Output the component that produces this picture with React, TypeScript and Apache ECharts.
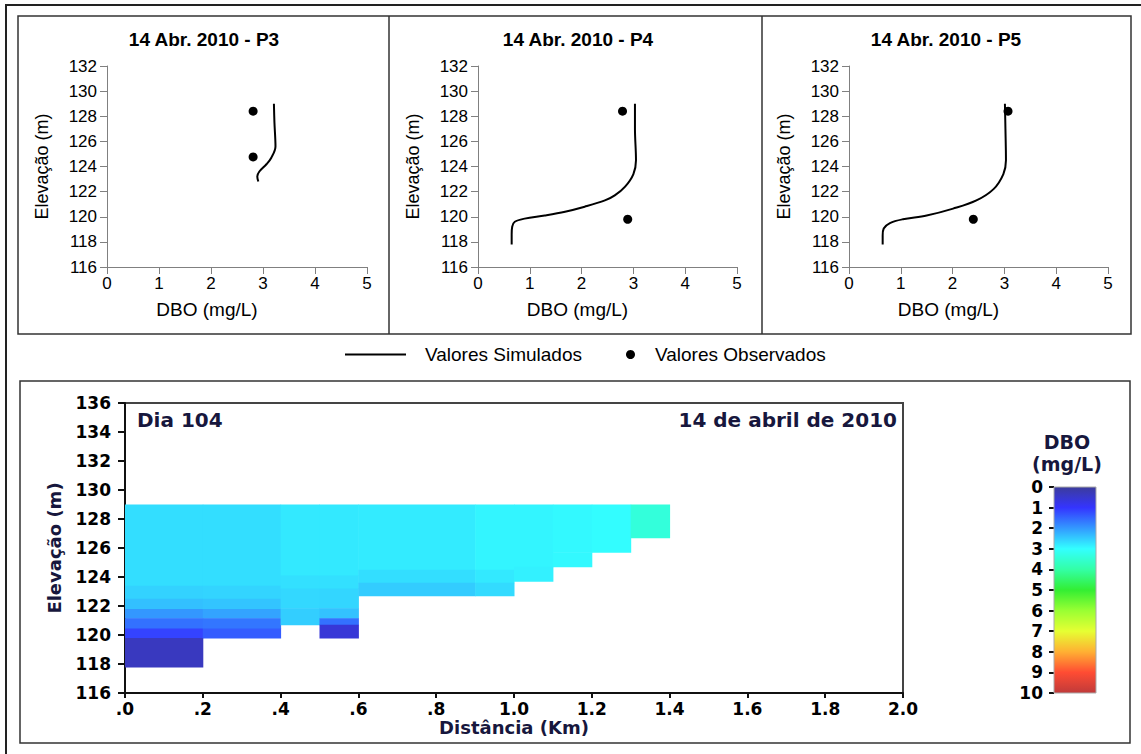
import React, { useEffect, useRef } from 'react';
import * as echarts from 'echarts';

// ---------- data ----------
const panelTitles = ['14 Abr. 2010 - P3', '14 Abr. 2010 - P4', '14 Abr. 2010 - P5'];

// simulated profiles [DBO mg/L, elevation m]
const p3Simulated = [[3.21, 129], [3.22, 127.5], [3.24, 125.6], [3.16, 124.7], [3.07, 124.2], [2.93, 123.6], [2.89, 123.2], [2.91, 122.8]];
const p4Simulated = [[3.03, 129], [3.03, 127], [3.05, 124.5], [3.0, 123.4], [2.84, 122.4], [2.64, 121.7], [2.45, 121.3], [2.06, 120.8], [1.68, 120.4], [1.29, 120.1], [0.9, 119.85], [0.71, 119.6], [0.66, 119.2], [0.65, 118.6], [0.65, 117.8]];
const p5Simulated = [[3.01, 129], [3.02, 127], [3.03, 124.5], [2.98, 123.4], [2.79, 122.2], [2.46, 121.3], [2.01, 120.65], [1.5, 120.1], [1.04, 119.8], [0.79, 119.5], [0.67, 119.06], [0.65, 118.5], [0.65, 117.8]];

// observed values [DBO mg/L, elevation m]
const p3Observed = [[2.81, 128.4], [2.81, 124.76]];
const p4Observed = [[2.79, 128.4], [2.89, 119.8]];
const p5Observed = [[3.07, 128.4], [2.4, 119.8]];

// heatmap cells: [x0 km, x1 km, elevation low, elevation high, DBO]
const sectionCells = [
  [0, 0.2, 123.4, 129, 2.68],
  [0, 0.2, 122.5, 123.4, 2.56],
  [0, 0.2, 121.8, 122.5, 2.38],
  [0, 0.2, 121.15, 121.8, 1.98],
  [0, 0.2, 120.45, 121.15, 1.6],
  [0, 0.2, 119.8, 120.45, 1.15],
  [0, 0.2, 117.8, 119.8, 0.35],
  [0.2, 0.4, 123.4, 129, 2.68],
  [0.2, 0.4, 122.5, 123.4, 2.58],
  [0.2, 0.4, 121.8, 122.5, 2.42],
  [0.2, 0.4, 121.15, 121.8, 2.1],
  [0.2, 0.4, 120.45, 121.15, 1.65],
  [0.2, 0.4, 119.8, 120.45, 1.4],
  [0.4, 0.5, 124.1, 129, 2.78],
  [0.4, 0.5, 123.2, 124.1, 2.7],
  [0.4, 0.5, 121.85, 123.2, 2.62],
  [0.4, 0.5, 120.7, 121.85, 2.52],
  [0.5, 0.6, 124.1, 129, 2.78],
  [0.5, 0.6, 123.2, 124.1, 2.7],
  [0.5, 0.6, 121.85, 123.2, 2.6],
  [0.5, 0.6, 121.15, 121.85, 2.4],
  [0.5, 0.6, 120.7, 121.15, 1.6],
  [0.5, 0.6, 119.8, 120.7, 0.6],
  [0.6, 0.9, 124.5, 129, 2.8],
  [0.6, 0.9, 123.6, 124.5, 2.68],
  [0.6, 0.9, 122.7, 123.6, 2.5],
  [0.9, 1.0, 124.5, 129, 2.9],
  [0.9, 1.0, 123.6, 124.5, 2.78],
  [0.9, 1.0, 122.7, 123.6, 2.65],
  [1.0, 1.1, 124.7, 129, 2.9],
  [1.0, 1.1, 123.7, 124.7, 2.86],
  [1.1, 1.2, 125.7, 129, 2.94],
  [1.1, 1.2, 124.7, 125.7, 2.94],
  [1.2, 1.3, 125.7, 129, 2.98],
  [1.3, 1.4, 126.7, 129, 3.4],
];

const distLabels = ['.0', '.2', '.4', '.6', '.8', '1.0', '1.2', '1.4', '1.6', '1.8', '2.0'];
const colorbarLabels = ['0', '1', '2', '3', '4', '5', '6', '7', '8', '9', '10'];
const dboColors = ['#3c3c9c', '#3434ff', '#3399ff', '#33ffff', '#33ffa6', '#33ee33', '#99ff33', '#e6ff33', '#ffb033', '#ff4c33', '#c03a3a'];
const colorbarRange = [[0, 10]];

// ---------- layout ----------
const panelGrids = [
  { left: 107, top: 66, width: 260, height: 201 },
  { left: 478, top: 66, width: 259, height: 201 },
  { left: 849, top: 66, width: 259, height: 201 },
];
const panelTitleX = [204, 578, 946];

const sans = 'Liberation Sans, Arial, sans-serif';
const boldFont = 'DejaVu Sans, Verdana, sans-serif';
const navy = '#17173d';

export default function App() {
  const ref = useRef<HTMLDivElement>(null);

  useEffect(() => {
    document.body.style.margin = '0';
    const chart = echarts.init(ref.current!, null, { renderer: 'svg' });

    const simulated = [p3Simulated, p4Simulated, p5Simulated];
    const observed = [p3Observed, p4Observed, p5Observed];

    const grids: any[] = panelGrids.map((g) => ({ ...g, containLabel: false }));
    grids.push({ left: 125, top: 403, width: 778, height: 290, show: true, borderColor: '#444', borderWidth: 2, backgroundColor: 'transparent' });
    grids.push({ left: 1054, top: 487, width: 42, height: 206 });

    const xAxes: any[] = panelGrids.map((_, i) => ({
      type: 'value', gridIndex: i, min: 0, max: 5, interval: 1,
      name: 'DBO (mg/L)', nameLocation: 'middle', nameGap: 33,
      nameTextStyle: { fontFamily: sans, fontSize: 19, color: '#000', padding: [0, 60, 0, 0] },
      axisLine: { show: true, onZero: false, lineStyle: { color: '#808080', width: 1 } },
      axisTick: { show: true, length: 7, lineStyle: { color: '#808080' } },
      axisLabel: { fontFamily: sans, fontSize: 17, color: '#000', margin: 8 },
      splitLine: { show: false },
    }));
    const yAxes: any[] = panelGrids.map((_, i) => ({
      type: 'value', gridIndex: i, min: 116, max: 132, interval: 2,
      name: 'Elevação (m)', nameLocation: 'middle', nameGap: 56, nameRotate: 90,
      nameTextStyle: { fontFamily: sans, fontSize: 18, color: '#000' },
      axisLine: { show: true, onZero: false, lineStyle: { color: '#808080', width: 1 } },
      axisTick: { show: true, length: 7, lineStyle: { color: '#808080' } },
      axisLabel: { fontFamily: sans, fontSize: 17, color: '#000', margin: 10 },
      splitLine: { show: false },
    }));

    // section heatmap axes
    xAxes.push({
      type: 'value', gridIndex: 3, min: 0, max: 2, interval: 0.2,
      name: 'Distância (Km)', nameLocation: 'middle', nameGap: 25,
      nameTextStyle: { fontFamily: boldFont, fontWeight: 'bold', fontSize: 18, color: navy },
      axisLine: { show: true, onZero: false, lineStyle: { color: '#111', width: 2 } },
      axisTick: { show: true, length: 5, lineStyle: { color: '#111', width: 2 } },
      axisLabel: { fontFamily: boldFont, fontWeight: 'bold', fontSize: 17, color: '#000', margin: 7,
        formatter: (_v: number, idx: number) => distLabels[idx] },
      splitLine: { show: false },
    });
    yAxes.push({
      type: 'value', gridIndex: 3, min: 116, max: 136, interval: 2,
      name: 'Elevação (m)', nameLocation: 'middle', nameGap: 62, nameRotate: 90,
      nameTextStyle: { fontFamily: boldFont, fontWeight: 'bold', fontSize: 18, color: navy },
      axisLine: { show: true, onZero: false, lineStyle: { color: '#111', width: 2 } },
      axisTick: { show: true, length: 7, lineStyle: { color: '#111', width: 2 } },
      axisLabel: { fontFamily: boldFont, fontWeight: 'bold', fontSize: 17, color: '#000', margin: 14 },
      splitLine: { show: false },
    });

    // colorbar axes
    xAxes.push({ type: 'value', gridIndex: 4, min: 0, max: 1, show: false });
    yAxes.push({
      type: 'value', gridIndex: 4, min: 0, max: 10, interval: 1, inverse: true,
      axisLine: { show: false },
      axisTick: { show: true, length: 5, lineStyle: { color: '#111', width: 2 } },
      axisLabel: { fontFamily: boldFont, fontWeight: 'bold', fontSize: 17, color: '#000', margin: 11,
        formatter: (_v: number, idx: number) => colorbarLabels[idx] },
      splitLine: { show: false },
    });

    const series: any[] = [];
    simulated.forEach((d, i) => {
      series.push({
        type: 'line', name: 'Valores Simulados', xAxisIndex: i, yAxisIndex: i, data: d,
        symbol: 'none', smooth: 0.35, lineStyle: { color: '#000', width: 2 }, itemStyle: { color: '#000' },
      });
    });
    observed.forEach((d, i) => {
      series.push({
        type: 'scatter', name: 'Valores Observados', xAxisIndex: i, yAxisIndex: i, data: d,
        symbol: 'circle', symbolSize: 9, itemStyle: { color: '#000', opacity: 1 },
      });
    });
    const heatIndex = series.length;
    series.push({
      type: 'custom', name: 'DBO', xAxisIndex: 3, yAxisIndex: 3,
      dimensions: ['x0', 'x1', 'y0', 'y1', 'dbo'],
      encode: { x: [0, 1], y: [2, 3] },
      data: sectionCells,
      renderItem: (_p: any, api: any) => {
        const a = api.coord([api.value(0), api.value(3)]);
        const b = api.coord([api.value(1), api.value(2)]);
        return {
          type: 'rect',
          shape: { x: a[0], y: a[1], width: b[0] - a[0] + 0.5, height: b[1] - a[1] + 0.5 },
          style: { fill: api.visual('color') },
        };
      },
    });
    series.push({
      type: 'custom', name: 'Escala', xAxisIndex: 4, yAxisIndex: 4,
      data: colorbarRange,
      encode: { y: [0, 1] },
      renderItem: (_p: any, api: any) => {
        const a = api.coord([0, api.value(0)]);
        const b = api.coord([1, api.value(1)]);
        return {
          type: 'rect',
          shape: { x: a[0], y: a[1], width: b[0] - a[0], height: b[1] - a[1] },
          style: {
            fill: new echarts.graphic.LinearGradient(0, 0, 0, 1,
              dboColors.map((c, k) => ({ offset: k / (dboColors.length - 1), color: c }))),
            stroke: '#aaa', lineWidth: 1,
          },
        };
      },
    });

    const graphics: any[] = [
      { type: 'rect', shape: { x: 6, y: 5, width: 1160, height: 780 }, style: { fill: 'none', stroke: '#222', lineWidth: 2 }, z: 100 },
      { type: 'rect', shape: { x: 18, y: 16, width: 1113, height: 318 }, style: { fill: 'none', stroke: '#333', lineWidth: 1.5 }, z: 100 },
      { type: 'line', shape: { x1: 389, y1: 16, x2: 389, y2: 334 }, style: { stroke: '#333', lineWidth: 1.5 }, z: 100 },
      { type: 'line', shape: { x1: 762, y1: 16, x2: 762, y2: 334 }, style: { stroke: '#333', lineWidth: 1.5 }, z: 100 },
      { type: 'rect', shape: { x: 20, y: 381, width: 1110, height: 362 }, style: { fill: 'none', stroke: '#333', lineWidth: 1.5 }, z: 100 },
      { type: 'text', x: 137, y: 420, style: { text: 'Dia 104', font: `bold 20px ${boldFont}`, fill: navy, verticalAlign: 'middle' }, z: 100 },
      { type: 'text', x: 897, y: 420, style: { text: '14 de abril de 2010', font: `bold 20px ${boldFont}`, fill: navy, align: 'right', verticalAlign: 'middle' }, z: 100 },
      { type: 'text', x: 1067, y: 442, style: { text: 'DBO', font: `bold 19px ${boldFont}`, fill: navy, align: 'center', verticalAlign: 'middle' }, z: 100 },
      { type: 'text', x: 1067, y: 464, style: { text: '(mg/L)', font: `bold 19px ${boldFont}`, fill: navy, align: 'center', verticalAlign: 'middle' }, z: 100 },
    ];
    panelTitles.forEach((t, i) => {
      graphics.push({ type: 'text', x: panelTitleX[i], y: 39, style: { text: t, font: `bold 19px ${sans}`, fill: '#000', align: 'center', verticalAlign: 'middle' }, z: 100 });
    });

    chart.setOption({
      animation: false,
      backgroundColor: '#fff',
      grid: grids,
      xAxis: xAxes,
      yAxis: yAxes,
      visualMap: {
        type: 'continuous', show: false, min: 0, max: 10, dimension: 4, seriesIndex: [heatIndex],
        inRange: { color: dboColors },
      },
      legend: [
        { data: [{ name: 'Valores Simulados', icon: 'rect' }], left: 345, top: 345, padding: 0, itemWidth: 61, itemHeight: 2,
          selectedMode: false, itemStyle: { color: '#000' },
          textStyle: { fontFamily: sans, fontSize: 19, color: '#000', padding: [0, 0, 0, 14] } },
        { data: [{ name: 'Valores Observados', icon: 'circle' }], left: 626, top: 345, padding: 0, itemWidth: 9, itemHeight: 9,
          selectedMode: false, itemStyle: { color: '#000', opacity: 1 },
          textStyle: { fontFamily: sans, fontSize: 19, color: '#000', padding: [0, 0, 0, 15] } },
      ],
      graphic: graphics,
      series,
    });

    return () => chart.dispose();
  }, []);

  return <div ref={ref} style={{ width: 1141, height: 754 }} />;
}
